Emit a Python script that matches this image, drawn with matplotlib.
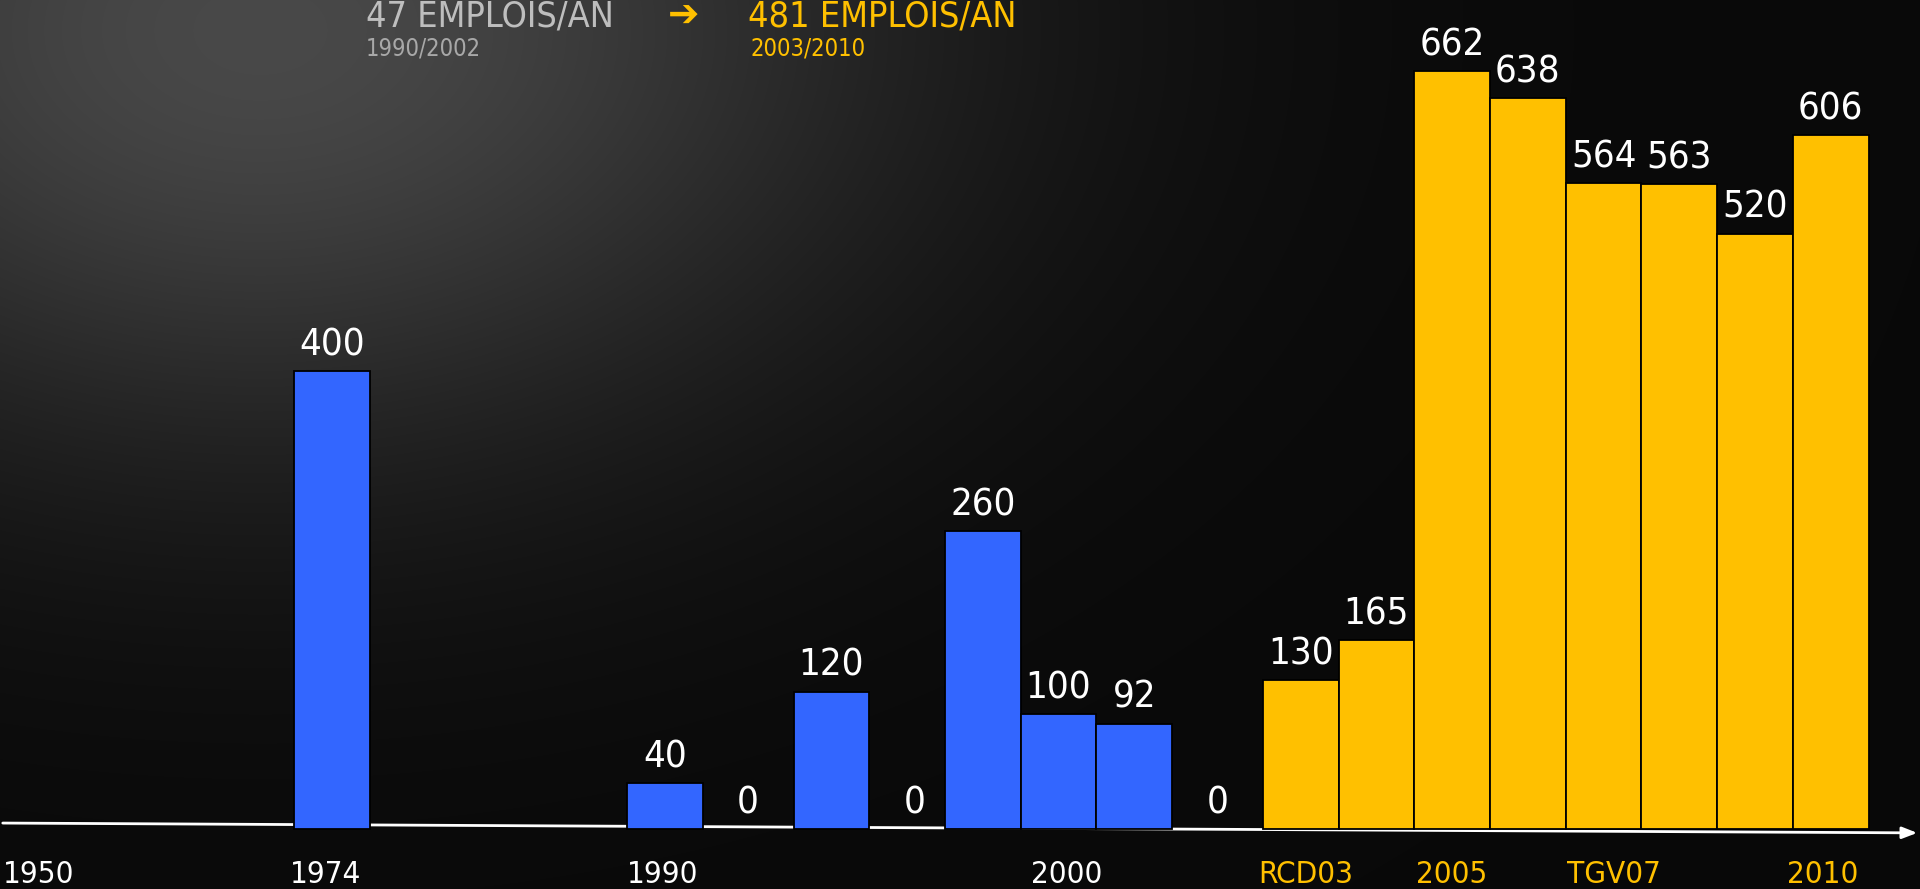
import numpy as np
import matplotlib
matplotlib.use("Agg")
import matplotlib.pyplot as plt
from matplotlib import font_manager

# bar values (emplois / an), placed on slot positions along the time axis
blue_values = [400, 40, 0, 120, 0, 260, 100, 92, 0]
blue_pos = [-3.9, 0.5, 1.6, 2.7, 3.8, 4.7, 5.7, 6.7, 7.8]
yellow_values = [130, 165, 662, 638, 564, 563, 520, 606]
yellow_pos = [8.9, 9.9, 10.9, 11.9, 12.9, 13.9, 14.9, 15.9]

tick_labels = ["1950", "1974", "1990", "2000", "RCD03", "2005", "TGV07", "2010"]
tick_pos = [-7.77, -3.98, 0.47, 5.81, 8.96, 10.89, 13.04, 15.8]
tick_colors = ["white"] * 4 + ["#FFC000"] * 4

BLUE = "#3366FF"
YELLOW = "#FFC000"

# narrow font if the system has one
have_cond = any(f.name == "DejaVu Sans" and f.stretch == "condensed"
                for f in font_manager.fontManager.ttflist)
STRETCH = "condensed" if have_cond else "normal"

W, H = 1920, 889
fig = plt.figure(figsize=(W / 100, H / 100), dpi=100)

# background: soft grey glow in the upper left
bg = fig.add_axes([0, 0, 1, 1])
yy, xx = np.mgrid[0:H, 0:W]
d2 = ((xx - 260) / 650.0) ** 2 + ((yy - 30) / 430.0) ** 2
shade = 0.035 + 0.25 * np.exp(-d2)
bg.imshow(np.dstack([shade] * 3), aspect="auto", extent=[0, 1, 0, 1])
bg.set_axis_off()

ax = fig.add_axes([0, 0, 1, 1])
ax.set_facecolor("none")
ax.set_xlim(-8.283, 17.08)
ax.set_ylim(-52.4, 724)
ax.set_axis_off()

# axis line with arrow (slightly tilted, behind the bars)
ax.annotate("", xy=(17.08, -3.4), xytext=(-8.283, 5.2),
            arrowprops=dict(arrowstyle="-|>,head_length=0.9,head_width=0.35",
                            color="white", lw=2), zorder=1)

def draw(pos, vals, color):
    lws = [1.3 if v > 0 else 0 for v in vals]
    ax.bar(pos, vals, width=1.0, color=color, edgecolor="black",
           linewidth=lws, zorder=2)
    for x, v in zip(pos, vals):
        ax.annotate(str(v), (x, v), xytext=(0, 11.5), textcoords="offset points",
                    ha="center", va="baseline", color="white", fontsize=27.5,
                    fontstretch=STRETCH, zorder=3)

draw(blue_pos, blue_values, BLUE)
draw(yellow_pos, yellow_values, YELLOW)

for x, lab, c in zip(tick_pos, tick_labels, tick_colors):
    ax.text(x, -47, lab, ha="center", va="baseline", color=c, fontsize=22.5,
            fontstretch=STRETCH)

# headline
fig.text(366 / W, 1 - 27 / H, "47 EMPLOIS/AN", color="#BEBEBE", fontsize=25.8,
         va="baseline", ha="left", fontstretch=STRETCH)
fig.text(366 / W, 1 - 55 / H, "1990/2002", color="#A8A8A8", fontsize=17,
         va="baseline", ha="left", fontstretch=STRETCH)
fig.text(684 / W, 1 - 27 / H, "\u2794", color=YELLOW, fontsize=27,
         va="baseline", ha="center", fontweight="bold")
fig.text(748 / W, 1 - 27 / H, "481 EMPLOIS/AN", color=YELLOW, fontsize=25.8,
         va="baseline", ha="left", fontstretch=STRETCH)
fig.text(751 / W, 1 - 55 / H, "2003/2010", color=YELLOW, fontsize=17,
         va="baseline", ha="left", fontstretch=STRETCH)

fig.savefig("out.png", dpi=100)
